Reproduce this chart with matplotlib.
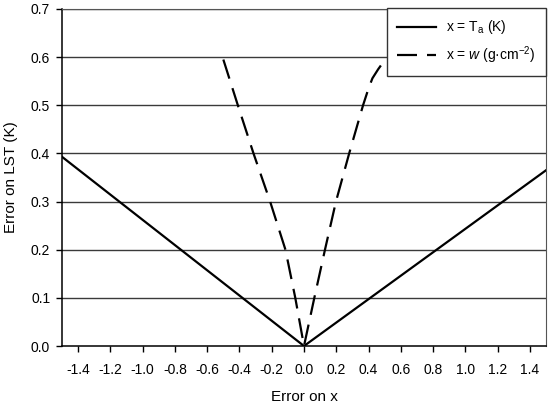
import matplotlib
matplotlib.use('Agg')
import matplotlib.pyplot as plt

plt.rcParams['font.family'] = ['Liberation Sans', 'DejaVu Sans']
plt.rcParams['mathtext.fontset'] = 'custom'
plt.rcParams['mathtext.rm'] = 'Liberation Sans'
plt.rcParams['mathtext.it'] = 'Liberation Sans:italic'

# error on LST for an error on air temperature
ta_x = [-1.5, 0.0, 1.5]
ta_y = [0.393, 0.0, 0.365]

# error on LST for an error on water vapour
w_x = [-0.50, -0.41, -0.313, -0.21, -0.115, -0.054, 0.0,
       0.064, 0.13, 0.198, 0.28, 0.366, 0.40, 0.424, 0.46, 0.49]
w_y = [0.595, 0.5, 0.4, 0.3, 0.2, 0.1, 0.0,
       0.1, 0.2, 0.3, 0.4, 0.5, 0.535, 0.556, 0.575, 0.589]

x_ticks = [-1.4, -1.2, -1.0, -0.8, -0.6, -0.4, -0.2, 0.0, 0.2, 0.4, 0.6, 0.8, 1.0, 1.2, 1.4]
y_ticks = [0.0, 0.1, 0.2, 0.3, 0.4, 0.5, 0.6, 0.7]

fig = plt.figure(figsize=(5.5, 4.05), dpi=100)
ax = fig.add_axes([62 / 550, 1 - 346 / 405, 484 / 550, 337 / 405])

for y in y_ticks[1:]:
    ax.axhline(y, color='#3a3a3a', lw=1.0, zorder=1)

ax.plot(ta_x, ta_y, color='black', lw=1.6, label='x = T$_\\mathrm{a}$ (K)', zorder=3)
ax.plot(w_x, w_y, color='black', lw=1.6, dashes=(9, 4.5), label='x = $\\it{w}$ (g·cm$^{-2}$)', zorder=3)

ax.set_xlim(-1.5, 1.5)
ax.set_ylim(0, 0.7)
ax.set_xticks(x_ticks)
ax.set_xticklabels(['%.1f' % v for v in x_ticks])
ax.set_yticks(y_ticks)
ax.set_yticklabels(['%.1f' % v for v in y_ticks])
ax.tick_params(direction='out', length=4.5, width=1, labelsize=10)
ax.tick_params(axis='y', pad=4)
ax.tick_params(axis='x', pad=8)

for side in ['top', 'right']:
    ax.spines[side].set_color('#555555')
for side in ['left', 'bottom']:
    ax.spines[side].set_linewidth(1.1)

ax.set_xlabel('Error on x', fontsize=11, labelpad=9)
ax.set_ylabel('Error on LST (K)', fontsize=11, labelpad=9)

leg = ax.legend(loc='upper right', bbox_to_anchor=(1.0, 1.003), borderaxespad=0,
                fontsize=10, fancybox=False, framealpha=1, edgecolor='#333333',
                handlelength=2.8, handletextpad=0.7, borderpad=0.75, labelspacing=0.55)
leg.get_frame().set_linewidth(1.0)

fig.savefig('out.png', dpi=100)
